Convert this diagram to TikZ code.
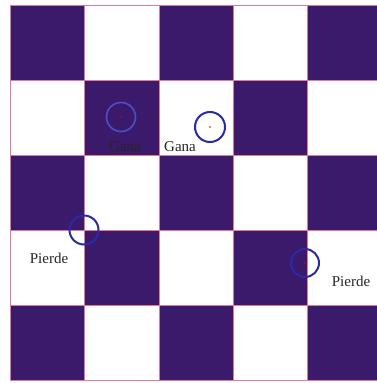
\documentclass[tikz,border=0pt]{standalone}
\usepackage{fontspec}
\setmainfont{Liberation Serif}
\definecolor{darksq}{HTML}{3B1A6C}
\definecolor{gridl}{HTML}{E07A9A}
\definecolor{ringdark}{HTML}{2A2AA8}
\definecolor{ringlight}{HTML}{4A50C8}
\tikzset{
  sq/.style={fill=darksq},
  ring/.style={draw=ringdark, line width=2pt},
  ringd/.style={draw=ringlight, line width=1.6pt},
  lbl/.style={font=\fontsize{15}{16}\selectfont, inner sep=0pt, text=black!85},
}
\begin{document}
\begin{tikzpicture}[x=1pt,y=-1pt]
\useasboundingbox (0,0) rectangle (377,383);
\fill[white] (0,0) rectangle (377,383);
\begin{scope}
\clip (0,0) rectangle (377,383);
\foreach \i in {0,...,4}{
  \foreach \j in {0,...,4}{
    \pgfmathtruncatemacro{\myparity}{mod(\i+\j,2)}
    \ifnum\myparity=0
      \fill[sq] ({10+74.4*\i},{5+75*\j}) rectangle ({10+74.4*(\i+1)},{5+75*(\j+1)});
    \fi
  }
}
\foreach \i in {0,...,5}{
  \draw[gridl, line width=0.6pt] ({10+74.4*\i},5) -- ({10+74.4*\i},380);
  \draw[gridl, line width=0.6pt] (10,{5+75*\i}) -- (385,{5+75*\i});
}
\end{scope}
% rings
\node[circle, ringd, minimum size=29pt, inner sep=0pt] (g1) at (121,117) {};
\fill[red!80!black] (g1.center) circle (0.8pt);
\node[circle, ring, minimum size=30pt, inner sep=0pt] (g2) at (210,127) {};
\fill[red!80!black] (g2.center) circle (0.8pt);
\node[circle, ring, minimum size=29pt, inner sep=0pt] (p1) at (84,230) {};
\node[circle, ring, minimum size=28pt, inner sep=0pt] (p2) at (305,263) {};
\fill[red!80!black] (p2.center) circle (0.8pt);
% labels
\node[lbl] (t1) at (125,147) {Gana};
\node[lbl] (t2) at (180,147) {Gana};
\node[lbl] (t3) at (49,258) {Pierde};
\node[lbl] (t4) at (351,281) {Pierde};
\end{tikzpicture}
\end{document}
